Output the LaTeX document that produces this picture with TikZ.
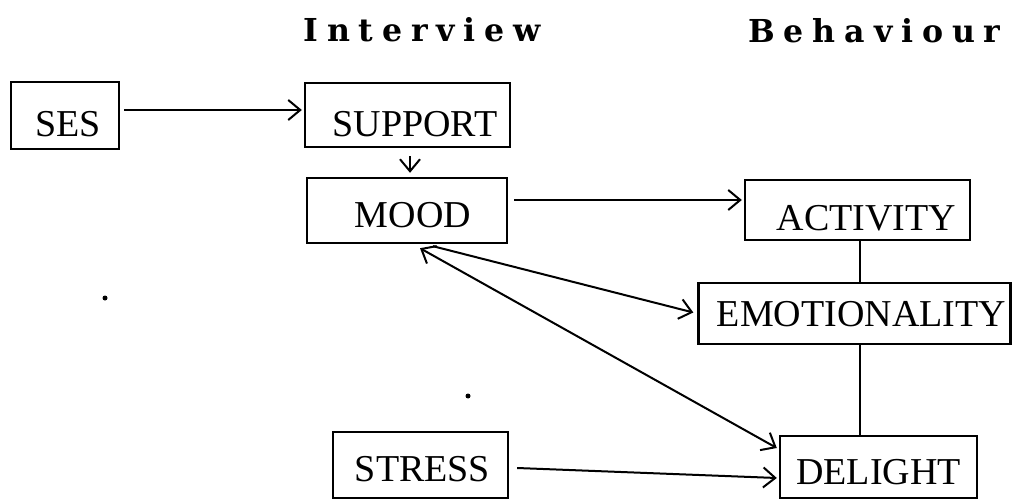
\documentclass[tikz,border=0pt]{standalone}
\usepackage{fontspec}
\setmainfont{Liberation Serif}
\newfontfamily\headfont[LetterSpace=28]{DejaVu Serif}
\usetikzlibrary{arrows.meta}
\newcommand\txt[3]{\raisebox{#2}[\height][\depth]{\hspace*{#1}#3\hspace*{-#1}}}
\tikzset{
  box/.style={draw, line width=1.2pt, inner sep=0pt, font=\fontsize{19pt}{22pt}\selectfont},
  arr/.style={line width=1pt, -{Straight Barb[length=6pt,width=10pt,line width=1pt]}},
  darr/.style={line width=1pt, {Straight Barb[length=6pt,width=10pt,line width=1pt]}-{Straight Barb[length=6pt,width=10pt,line width=1pt]}},
  plain/.style={line width=1pt},
  head/.style={anchor=base west, inner sep=0pt, font=\headfont\bfseries\fontsize{15.8pt}{19pt}\selectfont},
  speck/.style={fill=black, circle, inner sep=0pt, minimum size=2.5pt}
}
\begin{document}
\begin{tikzpicture}[x=0.5pt, y=-0.5pt]
\useasboundingbox (0,0) rectangle (1016,502);
% headers
\node[head] (hint) at (303,42) {Interview};
\node[head] (hbeh) at (748,43) {Behaviour};
% boxes
\node[box, minimum width=54pt, minimum height=33.5pt] (ses) at (65,115.5) {\txt{1.5pt}{-4.5pt}{SES}};
\node[box, minimum width=102.5pt, minimum height=32pt] (support) at (407.5,115) {\txt{3.75pt}{-4.5pt}{SUPPORT}};
\node[box, minimum width=100pt, minimum height=32.5pt] (mood) at (407,210.5) {\txt{3pt}{-2.5pt}{MOOD}};
\node[box, minimum width=112.5pt, minimum height=30pt] (activity) at (857.5,210) {\txt{4.5pt}{-4pt}{ACTIVITY}};
\node[box, minimum width=156pt, minimum height=30.5pt] (emot) at (854.5,313.5) {\txt{3.5pt}{-0.5pt}{EMOTIONALITY}};
\node[box, minimum width=98.5pt, minimum height=31pt] (delight) at (878.5,467) {\txt{0pt}{-2.5pt}{DELIGHT}};
\node[box, minimum width=87.5pt, minimum height=33pt] (stress) at (420.5,465) {\txt{1pt}{-2pt}{STRESS}};
% helper coordinates
\coordinate (y110) at (0,110);
\coordinate (y200) at (0,200);
\coordinate (x860) at (860,0);
\coordinate (x410) at (410,0);
% connectors
\draw[arr] ([xshift=2pt]ses.east |- y110) -- ([xshift=-1pt]support.west |- y110);
\draw[arr] ([yshift=-4pt]support.south -| x410) -- ([yshift=2pt]mood.north -| x410);
\draw[arr] ([xshift=3pt]mood.east |- y200) -- ([xshift=-1pt]activity.west |- y200);
\draw[arr] ([xshift=13pt,yshift=-1pt]mood.south) -- ([xshift=-2pt,yshift=0.5pt]emot.west);
\draw[darr] ([xshift=6.5pt,yshift=-2pt]mood.south) -- ([xshift=-1pt,yshift=9.5pt]delight.west);
\draw[arr] ([xshift=4pt,yshift=-1.5pt]stress.east) -- ([xshift=-1pt,yshift=-5.5pt]delight.west);
\draw[plain] (activity.south -| x860) -- (emot.north -| x860);
\draw[plain] (emot.south -| x860) -- (delight.north -| x860);
% specks
\node[speck] (s1) at (105,298) {};
\node[speck] (s2) at (468,396) {};
\end{tikzpicture}
\end{document}
